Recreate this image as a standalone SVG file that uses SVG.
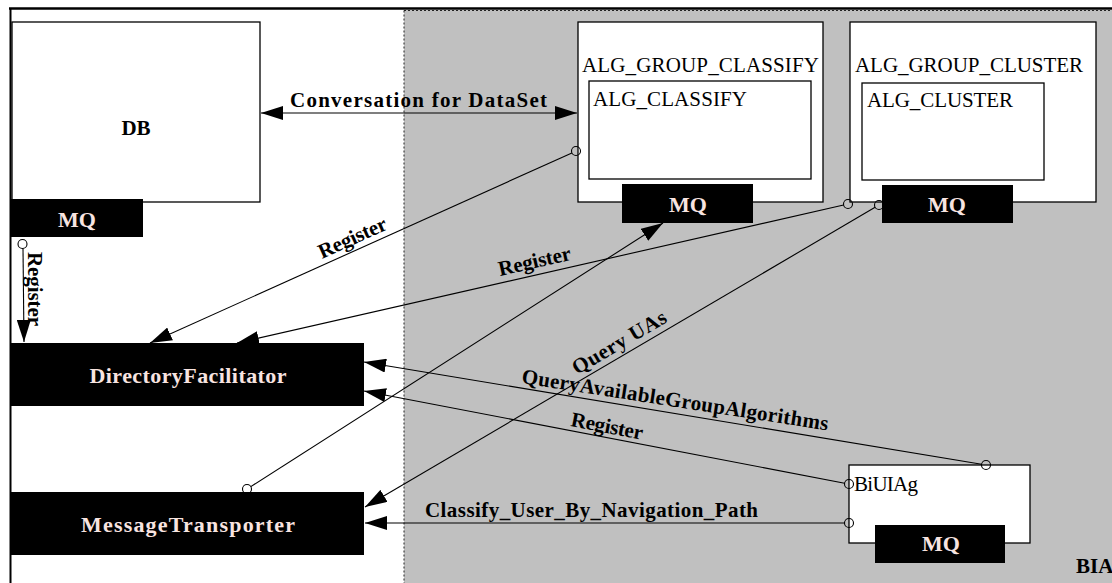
<svg xmlns="http://www.w3.org/2000/svg" width="1112" height="583" viewBox="0 0 1112 583">
  <style>
    .box { fill: #fff; stroke: #000; stroke-width: 1.3; }
    .blk { fill: #000; }
    .lbl { font-family: "Liberation Serif", "Times New Roman", serif; font-size: 21px; fill: #000; }
    .blbl { font-family: "Liberation Serif", "Times New Roman", serif; font-size: 22px; font-weight: bold; fill: #f8e4e0; text-anchor: middle; }
    .clbl { font-family: "Liberation Serif", "Times New Roman", serif; font-size: 21px; font-weight: bold; fill: #000; }
    .ln { stroke: #000; stroke-width: 1.1; fill: none; }
    .port { fill: none; stroke: #000; stroke-width: 1.1; }
  </style>
  <defs>
    <marker id="arrow" viewBox="0 0 22 14" refX="22" refY="7" markerWidth="22" markerHeight="14" markerUnits="userSpaceOnUse" orient="auto-start-reverse">
      <path d="M0,0 L22,7 L0,14 Z" fill="#000"/>
    </marker>
  </defs>

  <!-- canvas -->
  <rect x="0" y="0" width="1112" height="583" fill="#fff"/>

  <!-- platform region -->
  <g id="platform">
    <rect x="404" y="10" width="708" height="573" fill="#c0c0c0"/>
    <line x1="404" y1="10.5" x2="404" y2="583" stroke="#222" stroke-width="1" stroke-dasharray="2 2"/>
    <line x1="404" y1="10.5" x2="1112" y2="10.5" stroke="#222" stroke-width="1" stroke-dasharray="2 2"/>
    <text class="clbl" x="1076" y="573">BIA</text>
  </g>

  <!-- outer frame -->
  <line x1="9" y1="8.5" x2="1112" y2="8.5" stroke="#000" stroke-width="2.5"/>
  <line x1="10.5" y1="8" x2="10.5" y2="583" stroke="#000" stroke-width="2"/>

  <g id="db">
    <rect class="box" x="12" y="22" width="248" height="180"/>
    <text class="clbl" x="136" y="135" text-anchor="middle" font-size="22">DB</text>
    <rect class="blk" x="11" y="199" width="132" height="38"/>
    <text class="blbl" x="77" y="227">MQ</text>
  </g>

  <g id="alg-group-classify">
    <rect class="box" x="578" y="22" width="245" height="180"/>
    <text class="lbl" x="582" y="72" textLength="237" lengthAdjust="spacing">ALG_GROUP_CLASSIFY</text>
    <rect class="box" x="589" y="81" width="222" height="98"/>
    <text class="lbl" x="593" y="106" textLength="154" lengthAdjust="spacing">ALG_CLASSIFY</text>
    <rect class="blk" x="622" y="184" width="131" height="39"/>
    <text class="blbl" x="688" y="212">MQ</text>
  </g>

  <g id="alg-group-cluster">
    <rect class="box" x="850" y="22" width="246" height="180"/>
    <text class="lbl" x="855" y="72" textLength="228" lengthAdjust="spacing">ALG_GROUP_CLUSTER</text>
    <rect class="box" x="862" y="83" width="182" height="97"/>
    <text class="lbl" x="867" y="107" textLength="146" lengthAdjust="spacing">ALG_CLUSTER</text>
    <rect class="blk" x="882" y="185" width="131" height="38"/>
    <text class="blbl" x="947" y="212">MQ</text>
  </g>

  <g id="directory-facilitator">
    <rect class="blk" x="11" y="343" width="353" height="63"/>
    <text class="blbl" x="188" y="383" textLength="197" lengthAdjust="spacing">DirectoryFacilitator</text>
  </g>

  <g id="message-transporter">
    <rect class="blk" x="11" y="492" width="353" height="63"/>
    <text class="blbl" x="188" y="532" textLength="214" lengthAdjust="spacing">MessageTransporter</text>
  </g>

  <g id="biuiag">
    <rect class="box" x="849" y="465" width="181" height="78"/>
    <text class="lbl" x="854" y="491" textLength="64" lengthAdjust="spacing">BiUIAg</text>
    <rect class="blk" x="875" y="525" width="130" height="38"/>
    <text class="blbl" x="941" y="551">MQ</text>
  </g>

  <g id="connectors">
    <!-- DB <-> ALG_GROUP_CLASSIFY -->
    <line class="ln" x1="261" y1="113" x2="577" y2="113" marker-start="url(#arrow)" marker-end="url(#arrow)"/>
    <text class="clbl" x="290" y="107" font-size="22" textLength="257" lengthAdjust="spacing">Conversation for DataSet</text>

    <!-- DB MQ registers with DF -->
    <circle class="port" cx="22.5" cy="244" r="4.5"/>
    <line class="ln" x1="23" y1="248.5" x2="24" y2="342" marker-end="url(#arrow)"/>
    <text class="clbl" font-weight="normal" transform="translate(28,252) rotate(90)" textLength="74" lengthAdjust="spacing">Register</text>

    <!-- ALG_GROUP_CLASSIFY registers with DF -->
    <circle class="port" cx="576" cy="151" r="4.5"/>
    <line class="ln" x1="571.9" y1="152.9" x2="150" y2="343" marker-end="url(#arrow)"/>
    <text class="clbl" transform="translate(322,259) rotate(-24.3)" textLength="73" lengthAdjust="spacing">Register</text>

    <!-- ALG_GROUP_CLUSTER registers with DF -->
    <circle class="port" cx="848" cy="204" r="4.5"/>
    <line class="ln" x1="843.6" y1="205" x2="237" y2="343" marker-end="url(#arrow)"/>
    <text class="clbl" transform="translate(500,276) rotate(-12.8)" textLength="74" lengthAdjust="spacing">Register</text>

    <!-- cluster MQ queries MT -->
    <circle class="port" cx="879" cy="205" r="4.5"/>
    <line class="ln" x1="875.1" y1="207.3" x2="365" y2="507" marker-end="url(#arrow)"/>
    <text class="clbl" transform="translate(577,375) rotate(-30.4)" textLength="106" lengthAdjust="spacing">Query UAs</text>

    <!-- MT to classify MQ -->
    <circle class="port" cx="247" cy="489" r="4.5"/>
    <line class="ln" x1="250.8" y1="486.6" x2="663" y2="223" marker-end="url(#arrow)"/>

    <!-- BiUIAg queries DF -->
    <circle class="port" cx="986" cy="465" r="4.5"/>
    <line class="ln" x1="981.6" y1="464.3" x2="364" y2="362" marker-end="url(#arrow)"/>
    <text class="clbl" transform="translate(521,383) rotate(8.8)" textLength="310" lengthAdjust="spacing">QueryAvailableGroupAlgorithms</text>

    <!-- BiUIAg registers with DF -->
    <circle class="port" cx="849" cy="484" r="4.5"/>
    <line class="ln" x1="844.6" y1="483.2" x2="364" y2="391" marker-end="url(#arrow)"/>
    <text class="clbl" transform="translate(570,426) rotate(10.9)" textLength="73" lengthAdjust="spacing">Register</text>

    <!-- BiUIAg to MT -->
    <circle class="port" cx="849" cy="523" r="4.5"/>
    <line class="ln" x1="844.5" y1="523" x2="365" y2="523" marker-end="url(#arrow)"/>
    <text class="clbl" x="425" y="517" font-size="22" textLength="333" lengthAdjust="spacing">Classify_User_By_Navigation_Path</text>
  </g>
</svg>
